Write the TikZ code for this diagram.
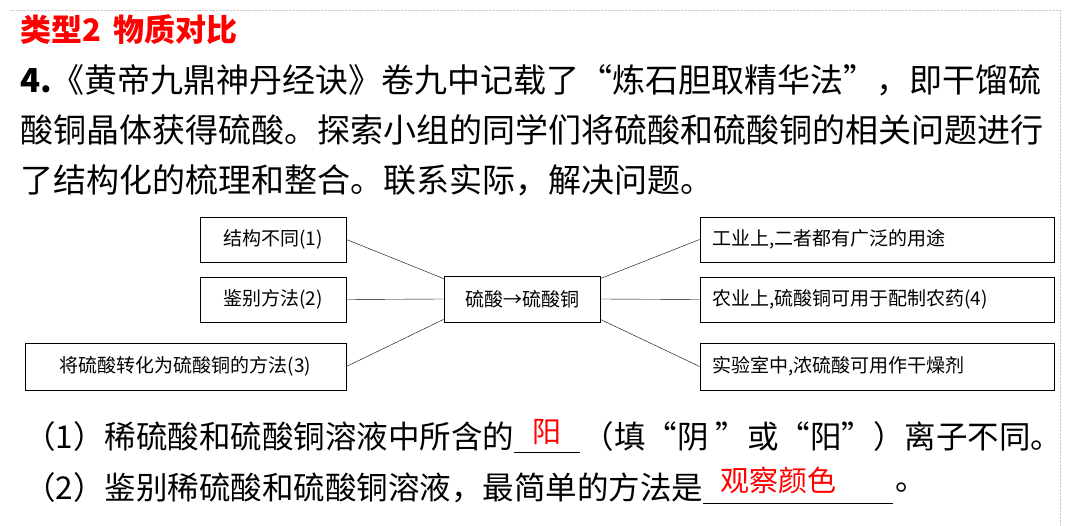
\documentclass[tikz,border=0pt]{standalone}
\usepackage{fontspec}
\setmainfont{Noto Sans CJK SC}
\begin{document}
\begin{tikzpicture}[x=1pt,y=-1pt,
  bx/.style={draw,line width=0.8pt,inner sep=0pt,font=\fontsize{19}{22}\selectfont},
  body/.style={anchor=west,inner sep=0pt,font=\fontsize{33}{36}\selectfont},
  q/.style={anchor=west,inner sep=0pt,font=\fontsize{31.5}{34}\selectfont},
  ans/.style={inner sep=0pt,text=red,font=\fontsize{29}{32}\selectfont}]
\useasboundingbox (0,0) rectangle (1080,526);
\draw[gray!40,densely dotted] (10,10) -- (1060,10) -- (1060,526);
\node[anchor=west,inner sep=0pt,text=red,font=\fontsize{31}{34}\selectfont\bfseries] (t) at (20,30) {类型2\, 物质对比};
\node[body] (l1) at (20,80) {\textbf{4.}《黄帝九鼎神丹经诀》卷九中记载了“炼石胆取精华法”，即干馏硫};
\node[body] (l2) at (20,130) {酸铜晶体获得硫酸。探索小组的同学们将硫酸和硫酸铜的相关问题进行};
\node[body] (l3) at (20,180) {了结构化的梳理和整合。联系实际，解决问题。};
\node[bx,minimum width=146,minimum height=45] (a1) at (273,239.5) {结构不同(1)};
\node[bx,minimum width=146,minimum height=45] (a2) at (273,299.5) {鉴别方法(2)};
\node[bx,minimum width=321,minimum height=47] (a3) at (185.5,366.5) {将硫酸转化为硫酸铜的方法(3)};
\node[bx,minimum width=156,minimum height=46] (c) at (522,299) {硫酸→硫酸铜};
\node[bx,minimum width=354,minimum height=45,text width=330] (b1) at (877,239.5) {工业上,二者都有广泛的用途};
\node[bx,minimum width=354,minimum height=45,text width=330] (b2) at (877,299.5) {农业上,硫酸铜可用于配制农药(4)};
\node[bx,minimum width=354,minimum height=47,text width=330] (b3) at (877,366.5) {实验室中,浓硫酸可用作干燥剂};
\draw (a1.east) -- ([yshift=-3]c.north west);
\draw (a2.east) -- (c.west);
\draw (a3.east) -- ([yshift=3]c.south west);
\draw ([yshift=-3]c.north east) -- (b1.west);
\draw (c.east) -- (b2.west);
\draw ([yshift=3]c.south east) -- (b3.west);
\node[q] (q1) at (24,437) {（1）稀硫酸和硫酸铜溶液中所含的};
\draw ([yshift=-15]q1.east) -- ++(66,0);
\node[ans] (a) at ([xshift=33,yshift=5]q1.east) {阳};
\node[q] (q1b) at ([xshift=68]q1.east) {（填“阴 ”或“阳”）离子不同。};
\node[q] (q2) at (24,488) {（2）鉴别稀硫酸和硫酸铜溶液，最简单的方法是};
\draw ([yshift=-15]q2.east) -- ++(190,0);
\node[ans] (aa) at ([xshift=75,yshift=8]q2.east) {观察颜色};
\node[q] (q2b) at ([xshift=192]q2.east) {。};
\end{tikzpicture}
\end{document}
